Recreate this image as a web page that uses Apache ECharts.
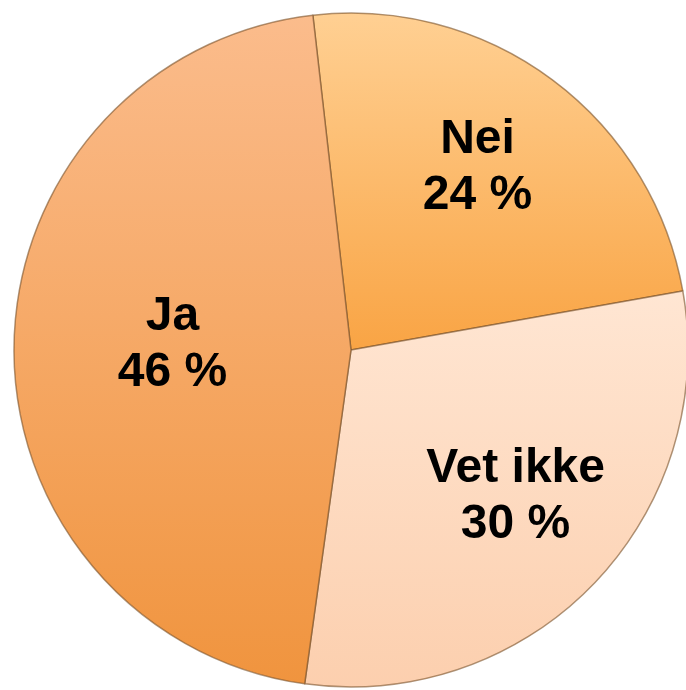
<!DOCTYPE html>
<html>
<head>
<meta charset="utf-8">
<script src="https://cdn.jsdelivr.net/npm/echarts@6/dist/echarts.min.js"></script>
<style>
  html, body { margin: 0; padding: 0; background: #fff; }
  #chart { width: 686px; height: 690px; }
</style>
</head>
<body>
<div id="chart"></div>
<script>
var categories = ['Nei', 'Vet ikke', 'Ja']
var values = [24, 30, 46]
var labels = ['24 %', '30 %', '46 %']

// slice fills, top -> bottom
var fills = [
  ['#ffd093', '#f9a444'],
  ['#ffe6d3', '#fccfae'],
  ['#fbbc8c', '#f0943e']
]
// nudges so labels sit where the original has them
var labelOffsets = [
  [24, -45],
  [41, 28],
  [-7, -3]
]

var chart = echarts.init(document.getElementById('chart'))
chart.setOption({
  animation: false,
  series: [{
    type: 'pie',
    center: [351, 350],
    radius: 337,
    startAngle: 96.5,
    clockwise: true,
    label: {
      show: true,
      position: 'inside',
      fontFamily: 'Liberation Sans, Arial, sans-serif',
      fontWeight: 'bold',
      fontSize: 48,
      lineHeight: 56,
      color: '#000',
      formatter: function (p) {
        return p.name + '\n' + labels[p.dataIndex]
      }
    },
    labelLine: { show: false },
    itemStyle: {
      borderColor: 'rgba(120, 80, 40, 0.6)',
      borderWidth: 1.5
    },
    emphasis: { disabled: true },
    data: categories.map(function (name, i) {
      return {
        name: name,
        value: values[i],
        label: { offset: labelOffsets[i] },
        itemStyle: {
          color: {
            type: 'linear', x: 0, y: 0, x2: 0, y2: 1,
            colorStops: [
              { offset: 0, color: fills[i][0] },
              { offset: 1, color: fills[i][1] }
            ]
          }
        }
      }
    })
  }]
})
</script>
</body>
</html>
